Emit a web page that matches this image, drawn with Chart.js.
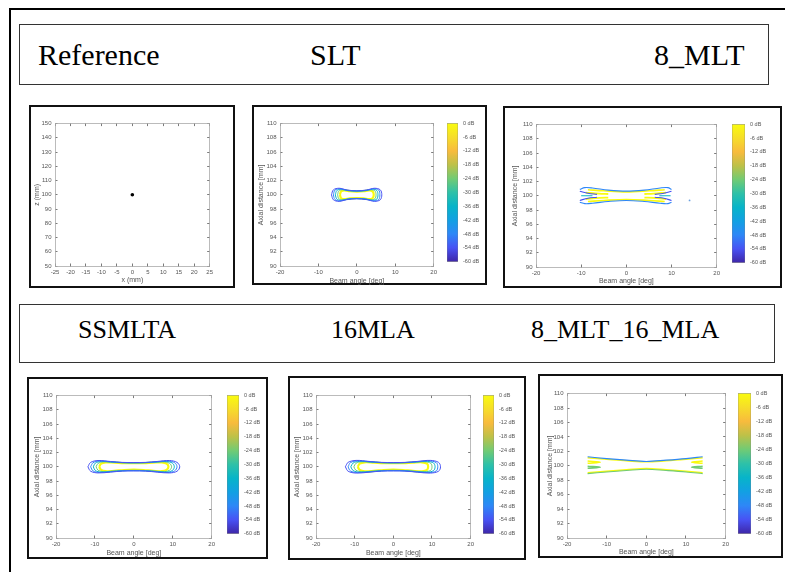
<!DOCTYPE html>
<html>
<head>
<meta charset="utf-8">
<script src="https://cdn.jsdelivr.net/npm/chart.js@4.4.1/dist/chart.umd.min.js"></script>
<style>
body{margin:0;background:#fff;width:785px;height:572px;overflow:hidden;position:relative;font-family:"Liberation Serif","Times New Roman",serif}
.abs{position:absolute}
.frame{left:9px;top:8px;width:900px;height:700px;border-left:2px solid #000;border-top:2px solid #000}
.hdr{border:1.5px solid #333;box-sizing:border-box}
.panel{border:2px solid #111;box-sizing:border-box;background:#fff}
.t30{font-size:30px;line-height:30px;white-space:nowrap;color:#000}
.t26{font-size:26px;line-height:26px;white-space:nowrap;color:#000}
canvas{position:absolute}
</style>
</head>
<body>
<div class="abs frame"></div>

<div class="abs hdr" style="left:19px;top:24px;width:750px;height:61px"></div>
<span class="abs t30" style="left:38px;top:40px">Reference</span>
<span class="abs t30" style="left:310px;top:40px">SLT</span>
<span class="abs t30" style="left:654px;top:40px">8_MLT</span>

<div class="abs hdr" style="left:19px;top:304px;width:756px;height:59px"></div>
<span class="abs t26" style="left:78px;top:317px">SSMLTA</span>
<span class="abs t26" style="left:331px;top:317px">16MLA</span>
<span class="abs t26" style="left:531px;top:317px">8_MLT_16_MLA</span>

<div class="abs panel" style="left:29px;top:105px;width:206px;height:183px"></div>
<div class="abs panel" style="left:252px;top:105px;width:235px;height:180px"></div>
<div class="abs panel" style="left:503px;top:106px;width:279px;height:182px"></div>
<div class="abs panel" style="left:27px;top:377px;width:241px;height:182px"></div>
<div class="abs panel" style="left:288px;top:376px;width:238px;height:184px"></div>
<div class="abs panel" style="left:538px;top:374px;width:245px;height:184px"></div>

<canvas id="refPlot"></canvas>
<canvas id="sltPlot"></canvas><canvas id="sltBar"></canvas>
<canvas id="mltPlot"></canvas><canvas id="mltBar"></canvas>
<canvas id="ssPlot"></canvas><canvas id="ssBar"></canvas>
<canvas id="mlaPlot"></canvas><canvas id="mlaBar"></canvas>
<canvas id="comboPlot"></canvas><canvas id="comboBar"></canvas>

<script>
// tick labels
const refXTicks = [-25,-20,-15,-10,-5,0,5,10,15,20,25];
const refZTicks = [50,60,70,80,90,100,110,120,130,140,150];
const beamTicks = [-20,-10,0,10,20];
const axialTicks = [90,92,94,96,98,100,102,104,106,108,110];
const dbTicks = [0,-6,-12,-18,-24,-30,-36,-42,-48,-54,-60];

// parula colours, bottom (-60 dB) to top (0 dB)
const parula = ['#3e26a8','#4852f4','#2e87f7','#12a0e3','#07b4c9','#2ec1a8','#71cb74','#bdc148','#f8bb3d','#f6dd2a','#f9fb0e'];

// reference point scatterer
const refPoint = [[0,100]];

// SLT contours [beam angle, axial distance]
const sltC54 = [[-6.6,100],[-6.1,100.7],[-4.6,100.92],[-2.6,100.68],[0,100.56],[2.6,100.68],[4.6,100.92],[6.1,100.7],[6.5,100],[6.1,99.3],[4.6,99.08],[2.6,99.32],[0,99.44],[-2.6,99.32],[-4.6,99.08],[-6.1,99.3],[-6.6,100]];
const sltC42 = [[-6.1,100],[-5.7,100.66],[-4.4,100.85],[-2.5,100.64],[0,100.54],[2.5,100.64],[4.4,100.85],[5.7,100.66],[6.0,100],[5.7,99.34],[4.4,99.15],[2.5,99.36],[0,99.46],[-2.5,99.36],[-4.4,99.15],[-5.7,99.34],[-6.1,100]];
const sltC30 = [[-5.6,100],[-5.2,100.6],[-4.1,100.78],[-2.4,100.6],[0,100.52],[2.4,100.6],[4.1,100.78],[5.2,100.6],[5.5,100],[5.2,99.4],[4.1,99.22],[2.4,99.4],[0,99.48],[-2.4,99.4],[-4.1,99.22],[-5.2,99.4],[-5.6,100]];
const sltC18 = [[-5.0,100],[-4.7,100.55],[-3.7,100.7],[-2.2,100.56],[0,100.5],[2.2,100.56],[3.7,100.7],[4.7,100.55],[5.0,100],[4.7,99.45],[3.7,99.3],[2.2,99.44],[0,99.5],[-2.2,99.44],[-3.7,99.3],[-4.7,99.45],[-5.0,100]];
const sltC6 = [[-4.4,100],[-4.1,100.48],[-3.2,100.62],[-1.8,100.5],[0,100.45],[1.8,100.5],[3.2,100.62],[4.1,100.48],[4.4,100],[4.1,99.52],[3.2,99.38],[1.8,99.5],[0,99.55],[-1.8,99.5],[-3.2,99.38],[-4.1,99.52],[-4.4,100]];

// 8_MLT contour pieces
const mltUpperBlue = [[-10.3,100.9],[-9.2,101.15],[-7.5,101.1],[-4,100.8],[0,100.65],[4,100.8],[7.5,101.1],[9.2,101.15],[10,100.9]];
const mltLowerBlue = [[-10.3,99.1],[-9.2,98.9],[-7.5,98.95],[-4,99.2],[0,99.35],[4,99.2],[7.5,98.95],[9.2,98.9],[10,99.1]];
const mltUpperYellow = [[-8.5,100.85],[-5,100.7],[0,100.55],[5,100.7],[8.5,100.85]];
const mltLowerYellow = [[-8.5,99.2],[-5,99.35],[0,99.48],[5,99.35],[8.5,99.2]];
const mltBlueL1 = [[-10.3,100.65],[-8.5,100.35],[-6.5,100.2]];
const mltBlueL2 = [[-10.3,99.35],[-8.5,99.65],[-6.5,99.8]];
const mltBlueR1 = [[10,100.65],[8.3,100.35],[6.3,100.2]];
const mltBlueR2 = [[10,99.35],[8.3,99.65],[6.3,99.8]];
const mltYellowL1 = [[-9,100.45],[-6,100.3],[-4,100.25]];
const mltYellowL2 = [[-9,99.55],[-6,99.7],[-4,99.75]];
const mltYellowR1 = [[8.8,100.45],[6,100.3],[4,100.25]];
const mltYellowR2 = [[8.8,99.55],[6,99.7],[4,99.75]];
const mltCyanL = [[-10,100.0],[-7.5,100.0]];
const mltCyanR = [[9.8,100.0],[7.3,100.0]];
const mltDot = [[14,99.35]];

// SSMLTA contours
const ssC54 = [[-11.8,100],[-11.1,100.62],[-9.2,100.88],[-6,100.75],[-3,100.62],[0,100.6],[3,100.62],[6,100.75],[9.2,100.88],[11.1,100.62],[11.8,100],[11.1,99.38],[9.2,99.14],[6,99.25],[3,99.4],[0,99.42],[-3,99.4],[-6,99.25],[-9.2,99.14],[-11.1,99.38],[-11.8,100]];
const ssC42 = [[-11.1,100],[-10.5,100.57],[-8.8,100.81],[-6,100.71],[-3,100.6],[0,100.58],[3,100.6],[6,100.71],[8.8,100.81],[10.5,100.57],[11.1,100],[10.5,99.43],[8.8,99.2],[6,99.3],[3,99.42],[0,99.45],[-3,99.42],[-6,99.3],[-8.8,99.2],[-10.5,99.43],[-11.1,100]];
const ssC30 = [[-10.4,100],[-9.9,100.52],[-8.4,100.75],[-6,100.68],[-3,100.58],[0,100.56],[3,100.58],[6,100.68],[8.4,100.75],[9.9,100.52],[10.4,100],[9.9,99.48],[8.4,99.26],[6,99.34],[3,99.45],[0,99.48],[-3,99.45],[-6,99.34],[-8.4,99.26],[-9.9,99.48],[-10.4,100]];
const ssC18 = [[-9.7,100],[-9.2,100.48],[-7.9,100.69],[-6,100.64],[-3,100.56],[0,100.54],[3,100.56],[6,100.64],[7.9,100.69],[9.2,100.48],[9.7,100],[9.2,99.52],[7.9,99.32],[6,99.38],[3,99.48],[0,99.52],[-3,99.48],[-6,99.38],[-7.9,99.32],[-9.2,99.52],[-9.7,100]];
const ssC6 = [[-8.9,100],[-8.4,100.44],[-7.2,100.62],[-5,100.58],[-2.5,100.52],[0,100.5],[2.5,100.52],[5,100.58],[7.2,100.62],[8.4,100.44],[8.9,100],[8.4,99.56],[7.2,99.38],[5,99.44],[2.5,99.55],[0,99.6],[-2.5,99.55],[-5,99.44],[-7.2,99.38],[-8.4,99.56],[-8.9,100]];

// 16MLA contours
const mlaC54 = [[-12.4,100],[-11.7,100.62],[-9.6,100.9],[-6.3,100.76],[-3,100.62],[0,100.6],[3,100.62],[6.3,100.76],[9.6,100.9],[11.7,100.62],[12.2,100],[11.7,99.38],[9.6,99.12],[6.3,99.24],[3,99.4],[0,99.42],[-3,99.4],[-6.3,99.24],[-9.6,99.12],[-11.7,99.38],[-12.4,100]];
const mlaC42 = [[-11.7,100],[-11.1,100.58],[-9.2,100.83],[-6.2,100.72],[-3,100.6],[0,100.58],[3,100.6],[6.2,100.72],[9.2,100.83],[11.1,100.58],[11.5,100],[11.1,99.42],[9.2,99.18],[6.2,99.28],[3,99.42],[0,99.45],[-3,99.42],[-6.2,99.28],[-9.2,99.18],[-11.1,99.42],[-11.7,100]];
const mlaC30 = [[-11.0,100],[-10.4,100.53],[-8.8,100.76],[-6,100.68],[-3,100.58],[0,100.56],[3,100.58],[6,100.68],[8.8,100.76],[10.4,100.53],[10.8,100],[10.4,99.47],[8.8,99.25],[6,99.33],[3,99.45],[0,99.48],[-3,99.45],[-6,99.33],[-8.8,99.25],[-10.4,99.47],[-11.0,100]];
const mlaC18 = [[-10.2,100],[-9.7,100.48],[-8.2,100.7],[-6,100.64],[-3,100.56],[0,100.54],[3,100.56],[6,100.64],[8.2,100.7],[9.7,100.48],[10.0,100],[9.7,99.52],[8.2,99.31],[6,99.37],[3,99.48],[0,99.52],[-3,99.48],[-6,99.37],[-8.2,99.31],[-9.7,99.52],[-10.2,100]];
const mlaC6 = [[-9.2,100],[-8.7,100.44],[-7.4,100.63],[-5,100.58],[-2.5,100.52],[0,100.5],[2.5,100.52],[5,100.58],[7.4,100.63],[8.7,100.44],[9.0,100],[8.7,99.56],[7.4,99.37],[5,99.43],[2.5,99.55],[0,99.6],[-2.5,99.55],[-5,99.43],[-7.4,99.37],[-8.7,99.56],[-9.2,100]];

// 8_MLT_16_MLA contour pieces
const comboUpperBlue = [[-14.8,101.25],[-10,101.0],[-5,100.78],[0,100.6],[5,100.78],[10,101.0],[14.2,101.25]];
const comboUpperYellow = [[-14.8,101.1],[-10,100.9],[-5,100.7],[0,100.55],[5,100.7],[10,100.9],[14.2,101.1]];
const comboLowerYellow = [[-14.8,99.05],[-10,99.25],[-5,99.45],[0,99.62],[5,99.45],[10,99.25],[14.2,99.05]];
const comboLowerGreen = [[-14.8,98.92],[-10,99.15],[-5,99.35],[0,99.52],[5,99.35],[10,99.15],[14.2,98.92]];
const comboWedgeL1 = [[-14.8,100.65],[-11.6,100.5],[-14.8,100.35]];
const comboWedgeL2 = [[-14.8,99.95],[-11.6,99.8],[-14.8,99.65]];
const comboWedgeR1 = [[14.2,100.65],[11.4,100.5],[14.2,100.35]];
const comboWedgeR2 = [[14.2,99.95],[11.4,99.8],[14.2,99.65]];

Chart.defaults.font.family = "'Liberation Sans', Arial, sans-serif";
Chart.defaults.color = '#555';

const pts = a => a.map(p => ({x: p[0], y: p[1]}));
function line(data, color, w){
    return {data: pts(data), borderColor: color, borderWidth: w || 1, showLine: true,
            pointRadius: 0, tension: 0.35, fill: false};
}
const setTicks = arr => s => { s.ticks = arr.map(v => ({value: v})); };

function makePlot(id, p, datasets, xTicks, yTicks, xTitle, yTitle){
    const cv = document.getElementById(id);
    cv.style.left = (p.L - p.yw) + 'px';
    cv.style.top = (p.T - 5) + 'px';
    cv.width = p.R - p.L + p.yw + 5;
    cv.height = p.B - p.T + 5 + p.xh;
    const grid = {drawOnChartArea: false, tickLength: -2.5, color: '#222', lineWidth: 0.6};
    const border = {color: '#aaa', width: 0.8};
    const xr = {type: 'linear', min: xTicks[0], max: xTicks[xTicks.length-1], afterBuildTicks: setTicks(xTicks), grid, border};
    const yr = {type: 'linear', min: yTicks[0], max: yTicks[yTicks.length-1], afterBuildTicks: setTicks(yTicks), grid, border};
    new Chart(cv, {
        type: 'scatter',
        data: {datasets},
        options: {
            responsive: false, animation: false, events: [],
            layout: {padding: {top: 5, right: 5}},
            plugins: {legend: {display: false}, tooltip: {enabled: false}},
            scales: {
                x: {...xr, position: 'bottom', afterFit: s => { s.height = p.xh; },
                    ticks: {font: {size: 6}, padding: 5, maxRotation: 0, autoSkip: false},
                    title: {display: true, text: xTitle, font: {size: 7}, padding: 0}},
                y: {...yr, position: 'left', afterFit: s => { s.width = p.yw; },
                    ticks: {font: {size: 6}, padding: 6, autoSkip: false},
                    title: {display: true, text: yTitle, font: {size: 7}, padding: 0}},
                x2: {...xr, position: 'top', afterFit: s => { s.height = 0; }, ticks: {display: false}},
                y2: {...yr, position: 'right', afterFit: s => { s.width = 0; }, ticks: {display: false}}
            }
        }
    });
}

function makeBar(id, p){
    const cv = document.getElementById(id);
    const labelW = 36;
    cv.style.left = p.cbL + 'px';
    cv.style.top = (p.T - 4) + 'px';
    cv.width = p.cbR - p.cbL + labelW;
    cv.height = p.B - p.T + 8;
    new Chart(cv, {
        type: 'bar',
        data: {labels: ['dB'], datasets: [{
            data: [[dbTicks[dbTicks.length-1], dbTicks[0]]],
            backgroundColor: c => {
                const a = c.chart.chartArea;
                if (!a) return '#fff';
                const g = c.chart.ctx.createLinearGradient(0, a.bottom, 0, a.top);
                parula.forEach((col, i) => g.addColorStop(i / (parula.length - 1), col));
                return g;
            },
            borderColor: '#777', borderWidth: 0.6, borderSkipped: false,
            barPercentage: 1, categoryPercentage: 1
        }]},
        options: {
            responsive: false, animation: false, events: [],
            layout: {padding: {top: 4, bottom: 4}},
            plugins: {legend: {display: false}, tooltip: {enabled: false}},
            scales: {
                x: {display: false},
                y: {position: 'right', min: dbTicks[dbTicks.length-1], max: dbTicks[0],
                    afterBuildTicks: setTicks(dbTicks), afterFit: s => { s.width = labelW; },
                    grid: {display: false, drawTicks: false}, border: {display: false},
                    ticks: {font: {size: 5.5}, padding: 5, callback: v => v + ' dB'}}
            }
        }
    });
}

const Y = parula[10], GR = parula[6], CY = parula[4], BL = parula[2], DB = parula[1];

// Reference
makePlot('refPlot', {L: 55, R: 213, T: 119, B: 266, yw: 22, xh: 18},
    [{data: pts(refPoint), pointRadius: 1.8, backgroundColor: '#000', borderWidth: 0}],
    refXTicks, refZTicks, 'x (mm)', 'z (mm)');

// SLT
const pSlt = {L: 280, R: 437, T: 119, B: 266, yw: 23, xh: 19, cbL: 447, cbR: 458};
makePlot('sltPlot', pSlt, [line(sltC54, DB), line(sltC42, BL), line(sltC30, CY), line(sltC18, GR), line(sltC6, Y, 2.2)],
    beamTicks, axialTicks, 'Beam angle [deg]', 'Axial distance [mm]');
makeBar('sltBar', pSlt);

// 8_MLT
const pMlt = {L: 536, R: 720, T: 120, B: 267, yw: 25, xh: 18, cbL: 732, cbR: 745};
makePlot('mltPlot', pMlt, [
    line(mltUpperBlue, BL, 1.1), line(mltLowerBlue, BL, 1.1),
    line(mltBlueL1, DB, 1.1), line(mltBlueL2, DB, 1.1), line(mltBlueR1, DB, 1.1), line(mltBlueR2, DB, 1.1),
    line(mltCyanL, CY, 1.1), line(mltCyanR, CY, 1.1),
    line(mltYellowL1, Y, 1.8), line(mltYellowL2, Y, 1.8), line(mltYellowR1, Y, 1.8), line(mltYellowR2, Y, 1.8),
    line(mltUpperYellow, Y, 1.6), line(mltLowerYellow, Y, 1.6),
    {data: pts(mltDot), pointRadius: 0.9, backgroundColor: '#6aa0e0', borderWidth: 0}
], beamTicks, axialTicks, 'Beam angle [deg]', 'Axial distance [mm]');
makeBar('mltBar', pMlt);

// SSMLTA
const pSs = {L: 56, R: 215, T: 391, B: 538, yw: 23, xh: 19, cbL: 227, cbR: 239};
makePlot('ssPlot', pSs, [line(ssC54, DB), line(ssC42, BL), line(ssC30, CY), line(ssC18, GR), line(ssC6, Y, 2.2)],
    beamTicks, axialTicks, 'Beam angle [deg]', 'Axial distance [mm]');
makeBar('ssBar', pSs);

// 16MLA
const pMla = {L: 316, R: 474, T: 391, B: 538, yw: 23, xh: 19, cbL: 483, cbR: 494};
makePlot('mlaPlot', pMla, [line(mlaC54, DB), line(mlaC42, BL), line(mlaC30, CY), line(mlaC18, GR), line(mlaC6, Y, 2.2)],
    beamTicks, axialTicks, 'Beam angle [deg]', 'Axial distance [mm]');
makeBar('mlaBar', pMla);

// 8_MLT_16_MLA
const pCombo = {L: 567, R: 729, T: 389, B: 538, yw: 21, xh: 18, cbL: 738, cbR: 751};
makePlot('comboPlot', pCombo, [
    line(comboUpperBlue, BL, 1.1), line(comboUpperYellow, Y, 1.5),
    line(comboLowerGreen, GR, 1.1), line(comboLowerYellow, Y, 1.5),
    line(comboWedgeL1, Y, 1.5), line(comboWedgeL2, GR, 1.5),
    line(comboWedgeR1, Y, 1.5), line(comboWedgeR2, GR, 1.5)
], beamTicks, axialTicks, 'Beam angle [deg]', 'Axial distance [mm]');
makeBar('comboBar', pCombo);
</script>
</body>
</html>
